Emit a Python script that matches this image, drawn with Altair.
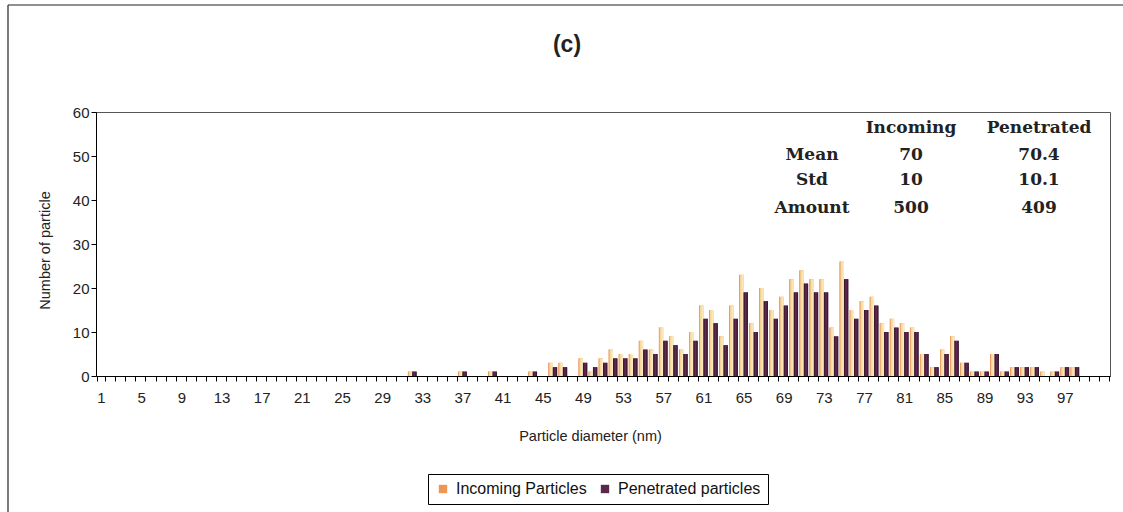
import altair as alt
import pandas as pd

# ---------------- data ----------------
diameters = list(range(1, 102))

# Incoming particles per diameter (1..101)
incoming = [
    0, 0, 0, 0, 0, 0, 0, 0, 0, 0,   # 1-10
    0, 0, 0, 0, 0, 0, 0, 0, 0, 0,   # 11-20
    0, 0, 0, 0, 0, 0, 0, 0, 0, 0,   # 21-30
    0, 1, 0, 0, 0, 0, 1, 0, 0, 1,   # 31-40
    0, 0, 0, 1, 0, 3, 3, 0, 4, 1,   # 41-50
    4, 6, 5, 5, 8, 6, 11, 9, 6, 10, # 51-60
    16, 15, 9, 16, 23, 12, 20, 15, 18, 22,  # 61-70
    24, 22, 22, 11, 26, 15, 17, 18, 12, 13, # 71-80
    12, 11, 5, 2, 6, 9, 3, 1, 1, 5, # 81-90
    1, 2, 2, 2, 1, 1, 2, 2, 0, 0,   # 91-100
    0,                              # 101
]

# Penetrated particles per diameter (1..101)
penetrated = [
    0, 0, 0, 0, 0, 0, 0, 0, 0, 0,
    0, 0, 0, 0, 0, 0, 0, 0, 0, 0,
    0, 0, 0, 0, 0, 0, 0, 0, 0, 0,
    0, 1, 0, 0, 0, 0, 1, 0, 0, 1,
    0, 0, 0, 1, 0, 2, 2, 0, 3, 2,
    3, 4, 4, 4, 6, 5, 8, 7, 5, 8,
    13, 12, 7, 13, 19, 10, 17, 13, 16, 19,
    21, 19, 19, 9, 22, 13, 15, 16, 10, 11,
    10, 10, 5, 2, 5, 8, 3, 1, 1, 5,
    1, 2, 2, 2, 0, 1, 2, 2, 0, 0,
    0,
]

series_names = ["Incoming Particles", "Penetrated particles"]

# statistics table text
stat_rows = ["", "Mean", "Std", "Amount"]
stat_incoming = ["Incoming", "70", "10", "500"]
stat_penetrated = ["Penetrated", "70.4", "10.1", "409"]

# ---------------- layout ----------------
W, H = 1014, 264
PAD = {"left": 96, "top": 112, "right": 13, "bottom": 136}

df = pd.DataFrame({
    "d": diameters * 2,
    "v": incoming + penetrated,
    "s": [series_names[0]] * len(diameters) + [series_names[1]] * len(diameters),
})

FONT = "Liberation Sans"

x_enc = alt.X(
    "d:O",
    scale=alt.Scale(paddingInner=0.14, paddingOuter=0.07),
    axis=alt.Axis(
        title="Particle diameter (nm)",
        labelExpr="((datum.value - 1) % 4 == 0 && datum.value <= 97) ? datum.label : ''",
        labelAngle=0,
        labelOverlap=False,
        labelFont=FONT, labelFontSize=15, labelColor="#222",
        labelPadding=9,
        tickBand="extent", tickSize=5, tickColor="#000",
        domainColor="#000",
        titleFont=FONT, titleFontSize=14.5, titleFontWeight="normal",
        titleColor="#222",
        titleX=494, titleY=60, titleBaseline="middle",
    ),
)
xoff_enc = alt.XOffset("s:N", scale=alt.Scale(domain=series_names, paddingInner=0, paddingOuter=0))
y_enc = alt.Y(
    "v:Q",
    scale=alt.Scale(domain=[0, 60], nice=False),
    axis=alt.Axis(
        title="Number of particle",
        values=[0, 10, 20, 30, 40, 50, 60],
        grid=False,
        labelFont=FONT, labelFontSize=15, labelColor="#222",
        labelPadding=2,
        tickSize=5, tickColor="#000", domainColor="#000",
        titleFont=FONT, titleFontSize=14.5, titleFontWeight="normal",
        titleColor="#222",
        titleX=-51, titleY=138, titleBaseline="middle",
    ),
)

base = alt.Chart(df)

legend_bars = base.mark_bar().encode(
    x=x_enc, xOffset=xoff_enc, y=y_enc,
    color=alt.Color(
        "s:N",
        scale=alt.Scale(domain=series_names, range=["#EE9652", "#5A2848"]),
        legend=alt.Legend(
            title=None, orient="none", legendX=332, legendY=362,
            direction="horizontal", strokeColor="#000", padding=7,
            labelFont=FONT, labelFontSize=16, labelColor="#111",
            symbolType="square", symbolSize=70, symbolStrokeWidth=0,
            columnPadding=10, labelOffset=5,
        ),
    ),
)

grad_inc = alt.LinearGradient(
    gradient="linear",
    stops=[
        alt.GradientStop(color="#E58548", offset=0),
        alt.GradientStop(color="#F7D697", offset=0.3),
        alt.GradientStop(color="#FCEFCB", offset=1),
    ],
    x1=0, x2=1, y1=0, y2=0,
)
grad_pen = alt.LinearGradient(
    gradient="linear",
    stops=[
        alt.GradientStop(color="#2E1420", offset=0),
        alt.GradientStop(color="#66295A", offset=0.5),
        alt.GradientStop(color="#2E1420", offset=1),
    ],
    x1=0, x2=1, y1=0, y2=0,
)

inc_bars = base.transform_filter(alt.datum.s == series_names[0]).mark_bar(color=grad_inc).encode(
    x=x_enc, xOffset=xoff_enc, y=y_enc
)
pen_bars = base.transform_filter(alt.datum.s == series_names[1]).mark_bar(color=grad_pen).encode(
    x=x_enc, xOffset=xoff_enc, y=y_enc
)

# stats table (positions relative to plot origin)
row_y = [16, 43, 68, 96]
tbl = pd.DataFrame({
    "tx": [716] * 4 + [815] * 4 + [943] * 4,
    "ty": row_y * 3,
    "t": stat_rows + stat_incoming + stat_penetrated,
})
table = alt.Chart(tbl).mark_text(
    font="DejaVu Serif", fontSize=17, fontWeight="bold", color="#222",
    align="center", baseline="middle",
).encode(
    x=alt.X("tx:Q", scale=None),
    y=alt.Y("ty:Q", scale=None),
    text="t:N",
)

title = alt.Chart(pd.DataFrame({"t": ["(c)"]})).mark_text(
    font=FONT, fontSize=23, fontWeight="bold", color="#222",
    align="center", baseline="middle",
).encode(x=alt.value(471), y=alt.value(-67), text="t:N")

# outer chart-area border (left & top)
border_left = alt.Chart(pd.DataFrame({"a": [0]})).mark_rule(color="#222", strokeWidth=1.2).encode(
    x=alt.value(-88), y=alt.value(-107), y2=alt.value(400)
)
border_top = alt.Chart(pd.DataFrame({"a": [0]})).mark_rule(color="#222", strokeWidth=1.2).encode(
    x=alt.value(-88), x2=alt.value(1027), y=alt.value(-107)
)

chart = alt.layer(
    legend_bars, inc_bars, pen_bars, table, title, border_left, border_top
).properties(
    width=W, height=H, padding=PAD,
    autosize=alt.AutoSizeParams(type="none"),
    background="white",
).configure_view(
    stroke="#555", strokeWidth=1,
)

chart.save("out.html", embed_options={"renderer": "svg", "actions": False})
